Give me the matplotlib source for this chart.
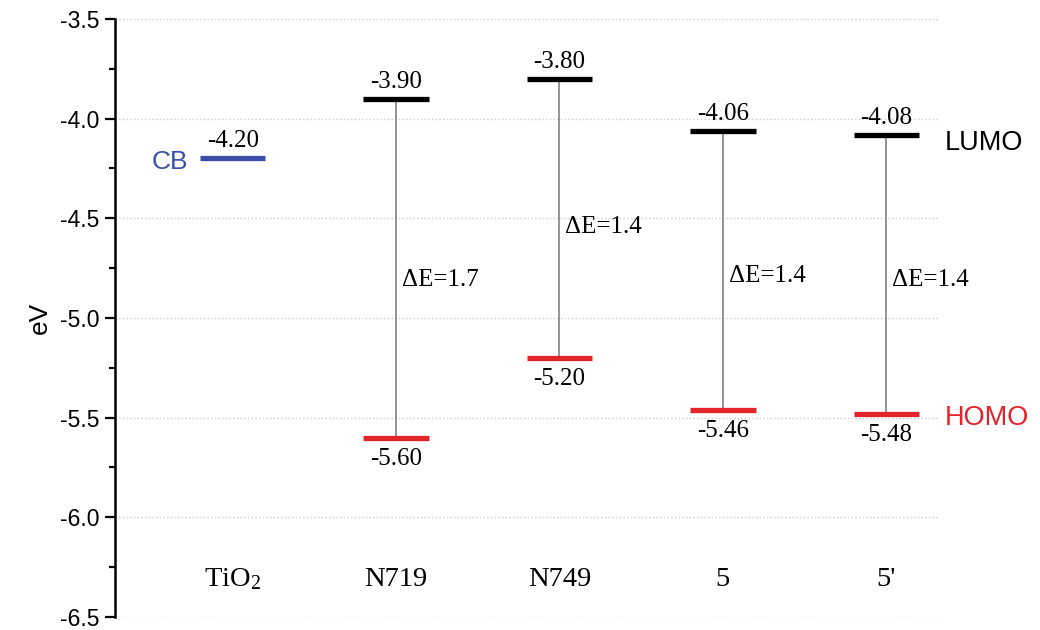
import matplotlib.pyplot as plt
from matplotlib.ticker import MultipleLocator

# ---------- data ----------
categories = ['TiO$_2$', 'N719', 'N749', '5', "5'"]
lumo = [-4.20, -3.90, -3.80, -4.06, -4.08]
homo = [None, -5.60, -5.20, -5.46, -5.48]
gap_text = [None, 'ΔE=1.7', 'ΔE=1.4', 'ΔE=1.4', 'ΔE=1.4']
gap_text_y = [None, -4.81, -4.545, -4.79, -4.81]   # where each ΔE label sits

BLUE = '#3b4fa8'
RED = '#e3242b'
SERIF = 'Liberation Serif'
SANS = 'Liberation Sans'

plt.rcParams['mathtext.fontset'] = 'custom'
plt.rcParams['mathtext.rm'] = SERIF
plt.rcParams['mathtext.it'] = SERIF + ':italic'

fig = plt.figure(figsize=(10.4, 6.3), dpi=100)
ax = fig.add_axes([0.1106, 0.0206, 0.7934, 0.9494])

half = 0.2
for i, name in enumerate(categories):
    top_color = BLUE if i == 0 else 'black'
    ax.hlines(lumo[i], i - half, i + half, color=top_color, lw=3.8, zorder=3)
    ax.text(i, lumo[i] + 0.03, f'{lumo[i]:.2f}', ha='center', va='bottom',
            family=SERIF, fontsize=18)
    if homo[i] is not None:
        ax.vlines(i, homo[i], lumo[i], color='#777777', lw=1.1, zorder=2)
        ax.hlines(homo[i], i - half, i + half, color=RED, lw=3.8, zorder=3)
        ax.text(i, homo[i] - 0.05, f'{homo[i]:.2f}', ha='center', va='top',
                family=SERIF, fontsize=18)
        ax.text(i + 0.035, gap_text_y[i], gap_text[i], ha='left', va='center',
                family=SERIF, fontsize=18)
    ax.text(i, -6.31, r'$\mathrm{' + name.replace('$', '') + '}$' if '$' in name else name,
            ha='center', va='center', family=SERIF, fontsize=20.5)

# band labels
ax.text(-0.27, lumo[0] - 0.02, 'CB', color=BLUE, ha='right', va='center',
        family=SANS, fontsize=19)
ax.text(4.36, -4.12, 'LUMO', color='black', ha='left', va='center',
        family=SANS, fontsize=19.5, clip_on=False)
ax.text(4.36, -5.5, 'HOMO', color=RED, ha='left', va='center',
        family=SANS, fontsize=19.5, clip_on=False)

ax.set_xlim(-0.72, 4.33)
ax.set_ylim(-6.5, -3.5)
ax.yaxis.set_major_locator(MultipleLocator(0.5))
ax.yaxis.set_minor_locator(MultipleLocator(0.25))
ax.set_yticklabels([f'{v:.1f}' for v in ax.get_yticks()], family=SANS, fontsize=16.5)
ax.tick_params(axis='y', which='major', length=7, width=1.6, direction='out', pad=4)
ax.tick_params(axis='y', which='minor', length=4, width=1.6, direction='out')
ax.set_xticks([])
ax.grid(axis='y', which='major', linestyle=':', color='#cccccc', lw=1)
for s in ['top', 'right', 'bottom']:
    ax.spines[s].set_visible(False)
ax.spines['left'].set_linewidth(1.8)
ax.set_ylabel('eV', family=SANS, fontsize=19, labelpad=6)

fig.savefig('out.png', dpi=100)
